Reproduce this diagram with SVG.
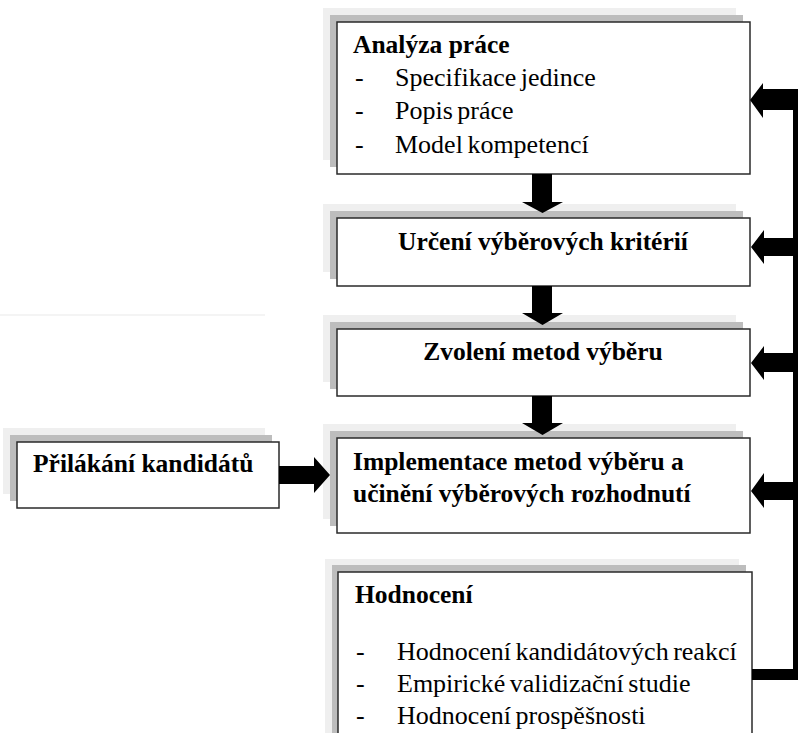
<svg xmlns="http://www.w3.org/2000/svg" width="798" height="733" viewBox="0 0 798 733">
<style>
.sh1{fill:#efefef}
.sh2{fill:#bdbdbd}
.box{fill:#ffffff;stroke:#2a2a2a;stroke-width:1.5}
.b{font-family:'Liberation Serif',Tinos,'Times New Roman',Times,serif;font-weight:bold;font-size:25.5px;fill:#000}
.r{font-family:'Liberation Serif',Tinos,'Times New Roman',Times,serif;font-size:26px;word-spacing:-2px;fill:#000}
.c{text-anchor:middle}
.arr{fill:#000}
</style>
<rect x="0" y="314" width="265" height="2" fill="#f4f4f4"/>
<g id="analyza">
<rect class="sh1" x="323" y="8" width="413" height="152"/>
<rect class="sh2" x="330" y="15" width="413" height="152"/>
<rect class="box" x="337" y="22" width="413" height="152"/>
<text class="b" x="353" y="53">Analýza práce</text>
<text class="r" x="355" y="86">-</text><text class="r" x="395" y="86">Specifikace jedince</text>
<text class="r" x="355" y="119">-</text><text class="r" x="395" y="119">Popis práce</text>
<text class="r" x="355" y="153">-</text><text class="r" x="395" y="153">Model kompetencí</text>
</g>
<g id="urceni">
<rect class="sh1" x="323" y="204" width="413" height="68"/>
<rect class="sh2" x="330" y="211" width="413" height="68"/>
<rect class="box" x="337" y="218" width="413" height="68"/>
<text class="b c" x="543" y="250">Určení výběrových kritérií</text>
</g>
<g id="zvoleni">
<rect class="sh1" x="323" y="315" width="413" height="67"/>
<rect class="sh2" x="330" y="322" width="413" height="67"/>
<rect class="box" x="337" y="329" width="413" height="67"/>
<text class="b c" x="543" y="360">Zvolení metod výběru</text>
</g>
<g id="implementace">
<rect class="sh1" x="323" y="424" width="413" height="95"/>
<rect class="sh2" x="330" y="431" width="413" height="95"/>
<rect class="box" x="337" y="438" width="413" height="95"/>
<text class="b" x="353" y="470">Implementace metod výběru a</text>
<text class="b" x="353" y="502">učinění výběrových rozhodnutí</text>
</g>
<g id="prilakani">
<rect class="sh1" x="3" y="428" width="262" height="66"/>
<rect class="sh2" x="10" y="435" width="262" height="66"/>
<rect class="box" x="17" y="442" width="262" height="66"/>
<text class="b" x="33" y="472">Přilákání kandidátů</text>
</g>
<g id="hodnoceni">
<rect class="sh1" x="325" y="559" width="414" height="180"/>
<rect class="sh2" x="332" y="565" width="414" height="180"/>
<rect class="box" x="338" y="572" width="414" height="180"/>
<text class="b" x="355" y="603">Hodnocení</text>
<text class="r" x="356" y="660">-</text><text class="r" x="397" y="660">Hodnocení kandidátových reakcí</text>
<text class="r" x="356" y="692">-</text><text class="r" x="397" y="692">Empirické validizační studie</text>
<text class="r" x="356" y="724">-</text><text class="r" x="397" y="724">Hodnocení prospěšnosti</text>
</g>
<g id="connectors">
<polygon class="arr" points="532,174 552,174 552,202 563,202 542.5,213 522,202 532,202"/>
<polygon class="arr" points="532,286 552,286 552,313 563,313 542.5,325 522,313 532,313"/>
<polygon class="arr" points="532,396 552,396 552,423 563,423 542.5,435 522,423 532,423"/>
<polygon class="arr" points="279,466 314,466 314,457 330,475 314,493 314,484 279,484"/>
<rect class="arr" x="793" y="89" width="5" height="591"/>
<rect class="arr" x="752" y="669" width="46" height="11"/>
<polygon class="arr" points="798,89 763,89 763,83 750,100 763,118 763,110 798,110"/>
<polygon class="arr" points="798,238 764,238 764,230 751,247 764,264 764,256 798,256"/>
<polygon class="arr" points="798,353 764,353 764,346 751,363 764,380 764,372 798,372"/>
<polygon class="arr" points="798,482 764,482 764,473 751,491 764,508 764,500 798,500"/>
</g>
</svg>
